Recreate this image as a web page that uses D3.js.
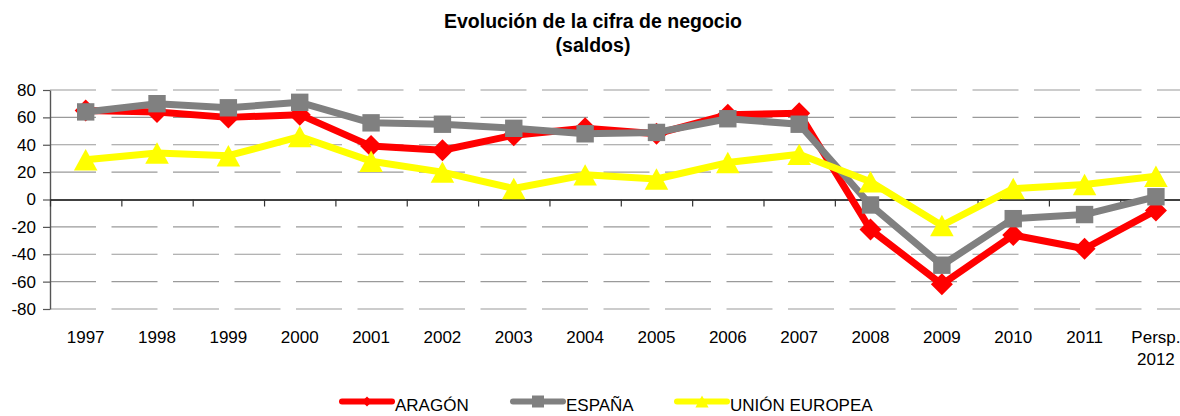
<!DOCTYPE html>
<html lang="es">
<head>
<meta charset="UTF-8">
<title>Evolución de la cifra de negocio</title>
<script src="https://d3js.org/d3.v7.min.js"></script>
<style>
  body { margin: 0; background: #fff; }
  svg { display: block; font-family: "Liberation Sans", Arial, sans-serif; }
  .gridline { stroke: #9a9a9a; stroke-width: 1.2; stroke-dasharray: 46 15.5; }
  .tick-label { font-size: 17px; fill: #000; }
</style>
</head>
<body>
<script>

// ================== DATA ==================
var categories = ["1997", "1998", "1999", "2000", "2001", "2002", "2003", "2004",
                  "2005", "2006", "2007", "2008", "2009", "2010", "2011", "Persp.\n2012"];
var aragon = [65, 64, 60, 62, 39, 36, 47, 52, 48, 62, 63, -22, -62, -26, -36, -8];
var espana = [64, 70, 67, 71, 56, 55, 52, 48, 49, 59, 55, -4, -48, -14, -11, 2];
var unionEuropea = [29, 34, 32, 46, 28, 20, 8, 18, 15, 27, 33, 13, -19, 8, 11, 17];
var seriesNames = ["ARAGÓN", "ESPAÑA", "UNIÓN EUROPEA"];
var yTicks = [-80, -60, -40, -20, 0, 20, 40, 60, 80];

// ================== INIT SVG ==================
var w = 1180, h = 416;
var left = 50, step = 71.35;

var svg = d3.select("body").append("svg")
    .attr("width", w)
    .attr("height", h);

// ================== SCALES ==================
var x = d3.scaleBand()
    .domain(categories)
    .range([left, left + categories.length * step])
    .padding(0);

// category boundaries, for the tick marks on the zero line
var xEdge = d3.scaleLinear()
    .domain([0, categories.length])
    .range([left, left + categories.length * step]);

var y = d3.scaleLinear()
    .domain([-80, 80])
    .range([309, 90]);

var color = d3.scaleOrdinal()
    .domain(seriesNames)
    .range(["#ff0000", "#808080", "#ffff00"]);

// ================== TITLE ==================
var title = svg.append("text")
    .attr("x", 593)
    .attr("text-anchor", "middle")
    .style("font-weight", "bold")
    .style("font-size", "19.5px");
title.append("tspan").attr("x", 593).attr("y", 28).text("Evolución de la cifra de negocio");
title.append("tspan").attr("x", 593).attr("y", 52).text("(saldos)");

// ================== GRID ==================
svg.append("g")
    .selectAll("line")
    .data(yTicks.filter(function(d){ return d !== 0; }))
    .enter().append("line")
    .attr("class", "gridline")
    .attr("x1", left)
    .attr("x2", xEdge(categories.length))
    .attr("y1", function(d){ return y(d); })
    .attr("y2", function(d){ return y(d); });

// ================== AXES ==================
var yAxis = d3.axisLeft(y)
    .tickValues(yTicks)
    .tickSize(7)
    .tickPadding(7)
    .tickSizeOuter(0)
    .tickFormat(function(d){ return String(d); });   // plain hyphen, as in the original

var gy = svg.append("g")
    .attr("transform", "translate(" + left + ",0)")
    .call(yAxis);
gy.select(".domain").attr("stroke", "#555").attr("stroke-width", 1.4);
gy.selectAll(".tick line").attr("stroke", "#555").attr("stroke-width", 1.2);
gy.selectAll(".tick text")
    .attr("class", "tick-label")
    .attr("font-family", null)
    .attr("font-size", null);

var xAxis = d3.axisBottom(xEdge)
    .tickValues(d3.range(0, categories.length + 1))
    .tickSize(7)
    .tickSizeOuter(0)
    .tickFormat("");

var gx = svg.append("g")
    .attr("transform", "translate(0," + y(0) + ")")
    .call(xAxis);
gx.select(".domain").attr("stroke", "#000").attr("stroke-width", 1.4);
gx.selectAll(".tick line").attr("stroke", "#333").attr("stroke-width", 1.2);

// category labels (with line break for the last one)
var labels = svg.append("g")
    .selectAll("text")
    .data(categories)
    .enter().append("text")
    .attr("class", "tick-label")
    .attr("text-anchor", "middle");
labels.each(function(d){
    var t = d3.select(this);
    var cx = x(d) + x.bandwidth() / 2;
    d.split("\n").forEach(function(part, i){
        t.append("tspan")
            .attr("x", cx)
            .attr("y", 343 + i * 21.5)
            .text(part);
    });
});

// ================== MARKERS ==================
function markerPath(kind, s) {
    var p = d3.path();
    if (kind === 0) {            // diamond
        p.moveTo(0, -s); p.lineTo(s, 0); p.lineTo(0, s); p.lineTo(-s, 0);
    } else if (kind === 1) {     // square
        p.moveTo(-s, -s); p.lineTo(s, -s); p.lineTo(s, s); p.lineTo(-s, s);
    } else {                     // triangle
        p.moveTo(0, -s); p.lineTo(s * 1.1, s); p.lineTo(-s * 1.1, s);
    }
    p.closePath();
    return p.toString();
}

// ================== SERIES ==================
var seriesValues = [aragon, espana, unionEuropea];
var markerSize = [11, 8.7, 10.7];

var line = d3.line()
    .x(function(d, i){ return x(categories[i]) + x.bandwidth() / 2; })
    .y(function(d){ return y(d); });

seriesNames.forEach(function(name, k){
    var g = svg.append("g").attr("class", "series");
    g.append("path")
        .datum(seriesValues[k])
        .attr("d", line)
        .attr("fill", "none")
        .attr("stroke", color(name))
        .attr("stroke-width", 7)
        .attr("stroke-linejoin", "round");
    g.selectAll(".marker")
        .data(seriesValues[k])
        .enter().append("path")
        .attr("class", "marker")
        .attr("d", markerPath(k, markerSize[k]))
        .attr("fill", color(name))
        .attr("transform", function(d, i){
            return "translate(" + (x(categories[i]) + x.bandwidth() / 2) + "," + y(d) + ")";
        });
});

// ================== LEGEND ==================
var legendX = [342, 513, 677];
var legendY = 401.5;
var legendMarker = [5, 6, 6];

var legend = svg.append("g")
    .selectAll("g")
    .data(seriesNames)
    .enter().append("g")
    .attr("transform", function(d, i){ return "translate(" + legendX[i] + "," + legendY + ")"; });

legend.append("line")
    .attr("x1", 0).attr("x2", 50)
    .attr("stroke", function(d){ return color(d); })
    .attr("stroke-width", 6)
    .attr("stroke-linecap", "round");
legend.append("path")
    .attr("d", function(d, i){ return markerPath(i, legendMarker[i]); })
    .attr("transform", "translate(25,0)")
    .attr("fill", function(d){ return color(d); });
legend.append("text")
    .attr("x", 53)
    .attr("y", 9.5)
    .style("font-size", "17px")
    .text(function(d){ return d; });

</script>
</body>
</html>
